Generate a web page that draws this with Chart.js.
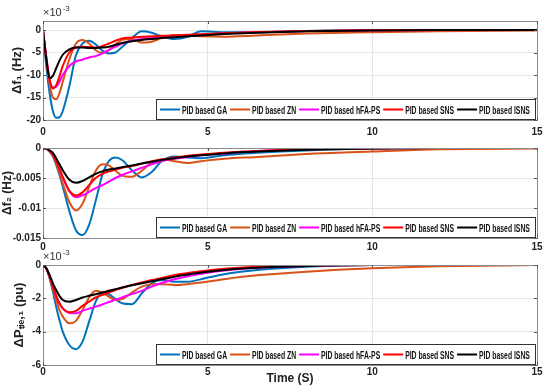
<!DOCTYPE html>
<html>
<head>
<meta charset="utf-8">
<script src="https://cdn.jsdelivr.net/npm/chart.js@4.4.0/dist/chart.umd.min.js"></script>
<style>
  html, body { margin: 0; padding: 0; background: #fff; }
  canvas { position: absolute; left: 0; }
</style>
</head>
<body>
<canvas id="c1" width="550" height="140" style="top:0"></canvas>
<canvas id="c2" width="550" height="120" style="top:140px"></canvas>
<canvas id="c3" width="550" height="140" style="top:250px"></canvas>
<script>
// time grid (s) shared by all curves
const timeS = [0, 0.1, 0.2, 0.3, 0.4, 0.5, 0.6, 0.8, 1.0, 1.2, 1.4, 1.6, 1.8, 2.0, 2.2, 2.4, 2.7, 3.0, 3.3, 3.6, 4.0, 4.4, 4.8, 5.5, 6.5, 8, 10, 12, 15];

const seriesLabels = ['PID based GA', 'PID based ZN', 'PID based hFA-PS', 'PID based SNS', 'PID based ISNS'];
const seriesColors = ['#0072BD', '#D95319', '#FF00FF', '#FF0000', '#000000'];

// delta f1 (x10^-3 Hz)
const f1GA   = [0, -8, -14, -18, -19.5, -19.4, -18, -12.5, -5.6, -3.0, -2.4, -3.2, -4.6, -5.2, -5.0, -3.8, -1.8, -0.3, -0.6, -1.4, -2.0, -1.5, -0.3, -0.5, -0.5, -0.2, 0, 0, 0];
const f1ZN   = [0, -7, -12, -15, -15.4, -14, -11.5, -6.5, -3.0, -2.2, -3.0, -4.5, -5.1, -4.5, -3.2, -2.2, -2.0, -2.8, -2.6, -1.8, -1.1, -1.2, -1.4, -1.5, -1.2, -0.8, -0.5, -0.3, -0.1];
const f1HFA  = [0, -6, -11, -12.8, -12.6, -11.5, -10, -8, -7.0, -6.6, -6.1, -5.8, -5.2, -4.4, -3.7, -3.0, -2.4, -2.0, -1.8, -1.6, -1.4, -1.2, -1.0, -0.75, -0.5, -0.25, -0.05, 0, 0];
const f1SNS  = [0, -6, -11, -13, -12.3, -10.3, -8, -5, -3.9, -3.7, -3.8, -3.9, -3.6, -3.0, -2.4, -1.9, -1.7, -1.5, -1.4, -1.3, -1.2, -1.05, -0.95, -0.7, -0.45, -0.2, -0.05, 0, 0];
const f1ISNS = [0, -6.5, -10.7, -10.2, -8.5, -6.8, -5.5, -4.3, -3.9, -3.9, -4.0, -4.0, -3.9, -3.7, -3.3, -2.9, -2.5, -2.2, -2.0, -1.8, -1.6, -1.4, -1.2, -0.9, -0.6, -0.3, -0.1, 0, 0];

// delta f2 (Hz)
const f2GA   = [0, -0.0001, -0.0006, -0.0014, -0.0028, -0.0045, -0.0064, -0.0105, -0.0137, -0.0145, -0.0128, -0.0088, -0.0045, -0.0022, -0.0016, -0.0020, -0.0037, -0.0049, -0.0040, -0.0022, -0.0014, -0.0016, -0.0017, -0.0012, -0.0008, -0.0004, -0.0001, 0, 0];
const f2ZN   = [0, -0.0001, -0.0006, -0.0013, -0.0026, -0.0042, -0.0059, -0.0090, -0.0104, -0.0093, -0.0065, -0.0038, -0.0027, -0.0029, -0.0038, -0.0046, -0.0048, -0.0038, -0.0024, -0.0019, -0.0022, -0.0025, -0.0022, -0.0018, -0.0015, -0.0010, -0.0006, -0.0002, -0.0001];
const f2HFA  = [0, -0.0001, -0.0005, -0.0011, -0.0022, -0.0035, -0.0049, -0.0072, -0.0082, -0.0079, -0.0073, -0.0067, -0.0062, -0.0056, -0.0050, -0.0045, -0.0039, -0.0033, -0.0027, -0.0022, -0.0018, -0.0015, -0.0012, -0.0009, -0.0005, -0.0002, -0.0001, 0, 0];
const f2SNS  = [0, -0.0001, -0.0005, -0.0011, -0.0022, -0.0035, -0.0048, -0.0071, -0.0079, -0.0074, -0.0062, -0.0050, -0.0043, -0.0039, -0.0036, -0.0033, -0.0030, -0.0026, -0.0022, -0.0019, -0.0016, -0.0013, -0.0011, -0.0008, -0.0005, -0.0002, -0.0001, 0, 0];
const f2ISNS = [0, -0.0001, -0.0004, -0.0008, -0.0017, -0.0027, -0.0037, -0.0053, -0.0058, -0.0055, -0.0049, -0.0043, -0.0039, -0.0036, -0.0034, -0.0032, -0.0029, -0.0026, -0.0023, -0.0020, -0.0017, -0.0014, -0.0012, -0.0009, -0.0006, -0.0003, -0.0001, 0, 0];

// delta P tie,1 (x10^-3 pu)
const ptGA   = [0, -0.2, -0.8, -1.6, -2.5, -3.3, -4.0, -4.8, -5.05, -4.6, -3.4, -2.2, -1.65, -1.75, -2.05, -2.3, -2.35, -1.7, -1.1, -0.9, -1.0, -1.0, -0.85, -0.55, -0.3, -0.1, 0, 0, 0];
const ptZN   = [0, -0.2, -0.75, -1.45, -2.1, -2.7, -3.1, -3.5, -3.35, -2.7, -1.95, -1.55, -1.65, -1.9, -2.1, -2.05, -1.65, -1.3, -1.15, -1.15, -1.2, -1.15, -1.05, -0.85, -0.62, -0.4, -0.2, -0.08, 0];
const ptHFA  = [0, -0.2, -0.7, -1.3, -1.85, -2.3, -2.62, -2.88, -2.9, -2.75, -2.62, -2.5, -2.37, -2.22, -2.08, -1.94, -1.75, -1.55, -1.3, -1.08, -0.85, -0.68, -0.52, -0.33, -0.17, -0.06, 0, 0, 0];
const ptSNS  = [0, -0.2, -0.7, -1.3, -1.85, -2.3, -2.6, -2.83, -2.75, -2.45, -2.2, -1.95, -1.8, -1.65, -1.5, -1.38, -1.2, -1.05, -0.9, -0.78, -0.6, -0.48, -0.37, -0.22, -0.1, -0.03, 0, 0, 0];
const ptISNS = [0, -0.2, -0.6, -1.1, -1.5, -1.85, -2.1, -2.2, -2.1, -1.95, -1.85, -1.75, -1.65, -1.55, -1.45, -1.35, -1.22, -1.1, -0.98, -0.86, -0.7, -0.57, -0.45, -0.3, -0.17, -0.06, 0, 0, 0];

const xTicks = [0, 5, 10, 15];

const plainFont = 'Liberation Sans, Arial, sans-serif';
const squeeze = 0.62; // the figure text is horizontally condensed

// box frame, mirrored ticks, exponent label and in-plot legend
const matlabBox = {
    id: 'matlabBox',
    afterDraw(chart) {
        const ctx = chart.ctx;
        const a = chart.chartArea;
        const opt = chart.options.plugins.matlabBox;
        ctx.save();
        ctx.strokeStyle = '#8c8c8c';
        ctx.lineWidth = 1;
        ctx.strokeRect(Math.round(a.left) + 0.5, Math.round(a.top) + 0.5, Math.round(a.right - a.left), Math.round(a.bottom - a.top));

        // inward ticks on all sides
        ctx.strokeStyle = '#555';
        const ys = chart.scales.y, xs = chart.scales.x;
        ctx.beginPath();
        ys.ticks.forEach(t => {
            const py = Math.round(ys.getPixelForValue(t.value)) + 0.5;
            ctx.moveTo(a.left, py); ctx.lineTo(a.left + 3, py);
            ctx.moveTo(a.right, py); ctx.lineTo(a.right - 3, py);
        });
        xs.ticks.forEach(t => {
            const px = Math.round(xs.getPixelForValue(t.value)) + 0.5;
            ctx.moveTo(px, a.bottom); ctx.lineTo(px, a.bottom - 3);
            ctx.moveTo(px, a.top); ctx.lineTo(px, a.top + 3);
        });
        ctx.stroke();

        if (opt.exponent) {
            ctx.fillStyle = '#333';
            ctx.textBaseline = 'alphabetic';
            ctx.font = '11px ' + plainFont;
            ctx.fillText('\u00d710', a.left, a.top - 5);
            const w = ctx.measureText('\u00d710').width;
            ctx.font = '8px ' + plainFont;
            ctx.fillText('-3', a.left + w + 1, a.top - 10);
        }

        // legend
        ctx.font = 'bold 11px ' + plainFont;
        const items = chart.data.datasets.map(ds => ({
            label: ds.label, color: ds.borderColor, w: ctx.measureText(ds.label).width * squeeze
        }));
        const padL = 4, padR = 5, lineW = 20, gap = 2, sep = 3, h = 20;
        let total = padL + padR + sep * (items.length - 1);
        items.forEach(it => { total += lineW + gap + it.w; });
        total = Math.round(total);
        const bx = Math.round(a.right - 2 - total);
        const by = Math.round(a.bottom - 1 - h);
        ctx.fillStyle = '#fff';
        ctx.fillRect(bx, by, total, h);
        ctx.strokeStyle = '#333';
        ctx.strokeRect(bx + 0.5, by + 0.5, total, h);
        let x = bx + padL;
        const cy = by + h / 2 + 0.5;
        ctx.textBaseline = 'middle';
        items.forEach(it => {
            ctx.strokeStyle = it.color;
            ctx.lineWidth = 2;
            ctx.beginPath();
            ctx.moveTo(x, cy); ctx.lineTo(x + lineW, cy);
            ctx.stroke();
            x += lineW + gap;
            ctx.save();
            ctx.translate(x, cy + 1);
            ctx.scale(squeeze, 1);
            ctx.fillStyle = '#111';
            ctx.fillText(it.label, 0, 0);
            ctx.restore();
            x += it.w + sep;
        });
        ctx.restore();
    }
};

function makePanel(id, values, p) {
    const datasets = values.map((vals, i) => ({
        label: seriesLabels[i],
        data: timeS.map((t, k) => ({ x: t, y: vals[k] })),
        borderColor: seriesColors[i],
        backgroundColor: seriesColors[i],
        borderWidth: 2,
        pointRadius: 0,
        cubicInterpolationMode: 'monotone',
        order: values.length - i
    }));

    return new Chart(document.getElementById(id), {
        type: 'line',
        data: { datasets: datasets },
        options: {
            responsive: false,
            animation: false,
            layout: { padding: { top: p.padTop, right: 13, left: 0, bottom: 0 } },
            plugins: {
                legend: { display: false },
                tooltip: { enabled: false },
                matlabBox: { exponent: p.exponent }
            },
            scales: {
                x: {
                    type: 'linear',
                    min: 0,
                    max: 15,
                    afterBuildTicks: s => { s.ticks = xTicks.map(v => ({ value: v })); },
                    afterFit: s => { s.height = p.xHeight; },
                    grid: { color: '#e6e6e6', drawTicks: false },
                    border: { display: false },
                    ticks: {
                        padding: p.xPad,
                        maxRotation: 0,
                        color: '#222',
                        font: { family: plainFont, weight: 'bold', size: 10 }
                    },
                    title: {
                        display: !!p.xTitle,
                        text: p.xTitle || '',
                        color: '#222',
                        padding: { top: 0, bottom: 4 },
                        font: { family: plainFont, weight: 'bold', size: 12 }
                    }
                },
                y: {
                    min: p.yMin,
                    max: p.yMax,
                    afterBuildTicks: s => {
                        s.ticks = s.ticks.filter(t => Math.abs(t.value / p.step - Math.round(t.value / p.step)) < 1e-6);
                    },
                    afterFit: s => { s.width = 43; },
                    grid: { color: '#e6e6e6', drawTicks: false },
                    border: { display: false },
                    ticks: {
                        stepSize: p.step,
                        padding: 2,
                        color: '#222',
                        font: { family: plainFont, weight: 'bold', size: 10 },
                        callback: v => String(parseFloat(Number(v).toFixed(4)))
                    },
                    title: {
                        display: true,
                        text: p.title,
                        color: '#222',
                        padding: { top: p.titlePad, bottom: 0 },
                        font: { family: plainFont, weight: 'bold', size: p.titleSize }
                    }
                }
            }
        },
        plugins: [matlabBox]
    });
}

makePanel('c1', [f1GA, f1ZN, f1HFA, f1SNS, f1ISNS], {
    yMin: -20, yMax: 2, step: 5, padTop: 21, xHeight: 20, xPad: 6,
    title: '\u0394f\u2081 (Hz)', titlePad: 10, titleSize: 13, exponent: true
});
makePanel('c2', [f2GA, f2ZN, f2HFA, f2SNS, f2ISNS], {
    yMin: -0.015, yMax: 0, step: 0.005, padTop: 3, xHeight: 22, xPad: 3,
    title: '\u0394f\u2082 (Hz)', titlePad: 0, titleSize: 12, exponent: false
});
makePanel('c3', [ptGA, ptZN, ptHFA, ptSNS, ptISNS], {
    yMin: -6, yMax: 0, step: 2, padTop: 15, xHeight: 25, xPad: 1,
    title: '\u0394P\u209c\u1d62\u2091,\u2081 (pu)', titlePad: 12, titleSize: 13, exponent: true,
    xTitle: 'Time (S)'
});
</script>
</body>
</html>
